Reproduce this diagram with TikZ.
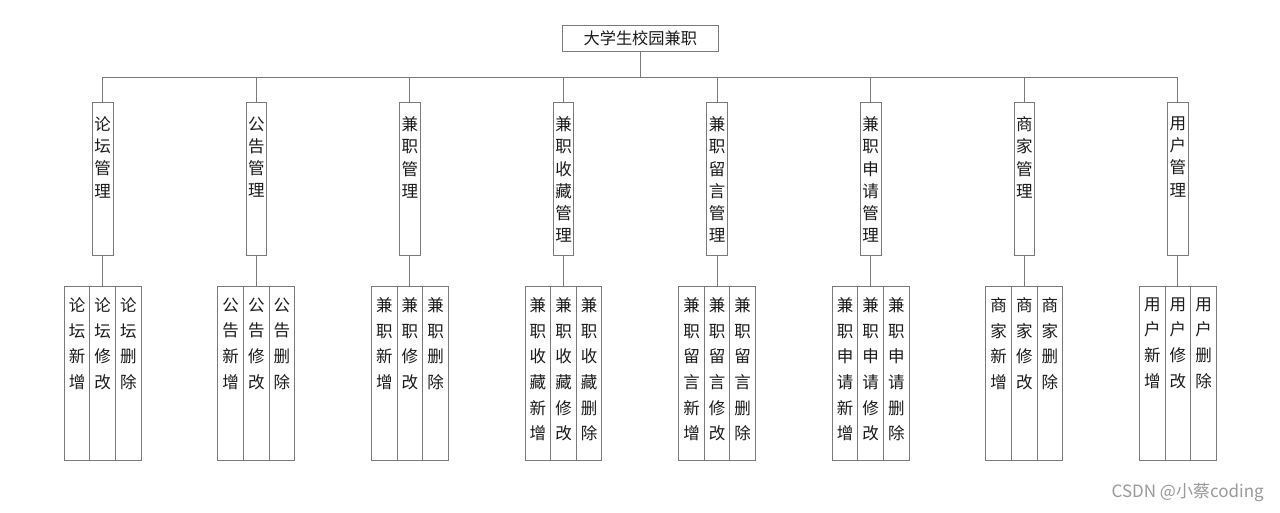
\documentclass[tikz,border=0pt]{standalone}
\usepackage{fontspec}
\setmainfont{Noto Sans CJK SC}
\definecolor{linegray}{HTML}{7A7A7A}
\definecolor{txtcol}{HTML}{1A1A1A}
\definecolor{wmgray}{HTML}{9A9A9A}
\tikzset{
  conn/.style={draw=linegray, line width=0.9pt},
  box/.style={draw=linegray, line width=0.9pt, fill=white, inner sep=0pt, anchor=north},
  midbox/.style={box, minimum width=20.7pt, minimum height=152.7pt},
  leafbox/.style={box, minimum width=25.6pt, minimum height=174.6pt},
  vtxt/.style={inner sep=0pt, anchor=north, align=center, text=txtcol},
  midtxt/.style={vtxt, font=\fontsize{16.5pt}{22.3pt}\selectfont},
  leaftxt/.style={vtxt, font=\fontsize{16.5pt}{25.7pt}\selectfont},
}
\begin{document}
\begin{tikzpicture}[x=1pt,y=-1pt]
\fill[white] (0,0) rectangle (1280,512);
\useasboundingbox (0,0) rectangle (1280,512);
\node[box, anchor=center, minimum width=156pt, minimum height=25.3pt, text=txtcol,
      font=\fontsize{16.2pt}{19pt}\selectfont] (root) at (640.3,38.4) {大学生校园兼职};
\foreach \i/\pre in {0/{论\\坛}, 1/{公\\告}, 2/{兼\\职}, 3/{兼\\职\\收\\藏},
                    4/{兼\\职\\留\\言}, 5/{兼\\职\\申\\请}, 6/{商\\家}, 7/{用\\户}}{
  \pgfmathsetmacro\cx{102.7+153.6*\i}
  \node[midbox] (g\i) at (\cx,102.3) {};
  \node[midtxt] (g\i-t) at (\cx,116.3) {\pre\\管\\理};
  \draw[conn] (root.south) -- ++(0,25.9) -| (g\i.north);
  \foreach \k/\s/\suf in {a/-1/{新\\增}, b/0/{修\\改}, c/1/{删\\除}}{
    \node[leafbox] (l\i\k) at (\cx+25.6*\s,285.7) {};
    \node[leaftxt] (l\i\k-t) at (\cx+25.6*\s,297.3) {\pre\\\suf};
  }
  \draw[conn] (g\i.south) -- (l\i b.north);
}
\node[anchor=east, inner sep=0pt, text=wmgray, font=\fontsize{17pt}{20pt}\selectfont]
  (wm) at (1264,492.7) {CSDN @小蔡coding};
\end{tikzpicture}
\end{document}
